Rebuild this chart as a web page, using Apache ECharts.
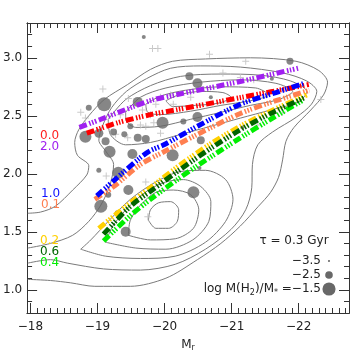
<!DOCTYPE html>
<html lang="en">
<head>
<meta charset="UTF-8">
<title>Mr - colour tracks</title>
<script src="https://cdn.jsdelivr.net/npm/echarts@6.0.0/dist/echarts.min.js"></script>
<style>
    html, body { margin: 0; padding: 0; background: #fff; }
    #main { width: 350px; height: 360px; }
</style>
</head>
<body>
<div id="main"></div>
<script type="text/javascript">

// axis ticks
var xMajor = [-18, -19, -20, -21, -22];
var yMajor = [1.0, 1.5, 2.0, 2.5, 3.0];
var xMinor = [];
var yMinor = [];
for (var i = 0; i <= 47; i++) xMinor.push(Math.round((-18 - i * 0.1) * 10) / 10);
for (var j = 0; j <= 25; j++) yMinor.push(Math.round((0.8 + j * 0.1) * 10) / 10);

// model tracks, labelled by tau (Gyr)
var track00 = [[-18.84, 2.35], [-19.30, 2.44], [-19.79, 2.51], [-20.16, 2.55], [-21.16, 2.66], [-22.15, 2.77]];
var track20 = [[-18.73, 2.40], [-19.05, 2.47], [-19.54, 2.58], [-19.84, 2.64], [-20.16, 2.68], [-21.16, 2.80], [-21.99, 2.91]];
var track10 = [[-18.99, 1.81], [-19.24, 1.94], [-19.64, 2.14], [-19.79, 2.20], [-19.99, 2.25], [-20.49, 2.41], [-21.13, 2.60], [-21.66, 2.70], [-22.08, 2.78]];
var track01 = [[-18.96, 1.78], [-19.24, 1.89], [-19.64, 2.08], [-19.99, 2.19], [-20.49, 2.34], [-21.13, 2.52], [-21.66, 2.63], [-22.16, 2.72]];
var track02 = [[-19.02, 1.53], [-19.49, 1.75], [-19.79, 1.88], [-20.24, 2.08], [-20.69, 2.26], [-21.13, 2.41], [-21.58, 2.54], [-22.12, 2.68]];
var track06 = [[-19.09, 1.48], [-19.49, 1.72], [-19.79, 1.85], [-20.24, 2.04], [-20.69, 2.22], [-21.13, 2.38], [-21.58, 2.52], [-22.10, 2.66]];
var track04 = [[-19.09, 1.42], [-19.49, 1.64], [-19.79, 1.78], [-20.19, 1.95], [-20.49, 2.07], [-21.13, 2.31], [-21.58, 2.47], [-22.08, 2.64]];

// galaxies: [Mr, colour, log M(H2)/M*]
var galaxies = [
    [-19.69, 3.18, -3.15], [-19.10, 2.60, -1.33], [-18.87, 2.57, -2.79], [-18.82, 2.32, -1.70],
    [-19.02, 2.35, -2.24], [-19.12, 2.28, -2.43], [-19.24, 2.36, -2.61], [-19.40, 2.34, -2.79],
    [-19.49, 2.41, -2.79], [-19.18, 2.19, -1.70], [-19.60, 2.31, -2.43], [-19.72, 2.30, -2.43],
    [-19.97, 2.44, -1.70], [-19.52, 2.17, -2.06], [-19.31, 2.01, -1.70], [-19.02, 2.03, -2.97],
    [-19.60, 2.62, -2.06], [-20.37, 2.84, -2.43], [-20.49, 2.78, -2.06], [-20.69, 2.66, -3.15],
    [-20.28, 2.45, -2.79], [-20.49, 2.49, -2.06], [-20.54, 2.29, -2.43], [-20.12, 2.16, -1.70],
    [-21.87, 2.97, -2.61], [-21.60, 2.82, -3.15], [-20.52, 2.05, -3.15], [-19.05, 1.72, -1.52],
    [-19.16, 1.82, -2.79], [-19.30, 1.66, -2.79], [-19.46, 1.86, -2.06], [-19.42, 1.50, -2.06],
    [-20.43, 1.84, -1.70], [-21.16, 2.40, -3.15]
];

// galaxies without H2 measurement
var upperLimits = [
    [-19.82, 3.08], [-19.90, 3.08], [-20.67, 3.03], [-21.21, 2.97], [-19.08, 2.73], [-18.75, 2.53],
    [-18.82, 2.48], [-19.46, 2.65], [-19.67, 2.55], [-19.79, 2.51], [-19.34, 2.51], [-19.72, 2.41],
    [-19.87, 2.60], [-19.94, 2.66], [-20.09, 2.68], [-20.13, 2.60], [-20.39, 2.66], [-20.54, 2.75],
    [-20.87, 2.87], [-21.13, 2.83], [-21.33, 2.81], [-19.84, 2.44], [-19.94, 2.35], [-19.64, 2.42],
    [-21.76, 2.53], [-22.33, 2.64], [-19.27, 2.34], [-19.45, 2.31], [-19.13, 1.98], [-19.72, 1.93],
    [-19.75, 1.63], [-21.39, 2.42]
];

// density contours of the parent sample
var contourOpen1 = [[-17.96, 1.09], [-18.30, 1.08], [-18.60, 1.06], [-18.96, 1.03], [-19.49, 1.03], [-20.02, 1.10],
    [-20.49, 1.26], [-20.84, 1.40], [-21.13, 1.55], [-21.40, 1.72], [-21.58, 1.84], [-21.70, 1.97], [-21.76, 2.12],
    [-21.81, 2.28], [-21.93, 2.40], [-22.18, 2.55], [-22.37, 2.68], [-22.43, 2.79], [-22.30, 2.89], [-21.96, 2.97],
    [-21.28, 3.00], [-20.61, 2.99], [-20.12, 2.97], [-19.79, 2.90], [-19.45, 2.77], [-19.10, 2.64], [-18.87, 2.50],
    [-18.72, 2.38], [-18.66, 2.27], [-18.70, 2.16], [-18.87, 2.07], [-18.84, 1.99], [-18.63, 1.86], [-18.37, 1.72],
    [-18.15, 1.67], [-17.96, 1.66]];
var contourOpen2 = [[-17.96, 1.23], [-18.30, 1.26], [-18.55, 1.23], [-19.09, 1.18], [-19.64, 1.17], [-20.16, 1.22],
    [-20.61, 1.35], [-20.99, 1.52], [-21.21, 1.69], [-21.30, 1.88], [-21.31, 2.08], [-21.39, 2.25], [-21.61, 2.36],
    [-21.97, 2.49], [-22.19, 2.60], [-22.27, 2.71], [-22.12, 2.80], [-21.76, 2.87], [-21.13, 2.92], [-20.54, 2.93],
    [-20.09, 2.91], [-19.73, 2.82], [-19.43, 2.71], [-19.21, 2.57], [-19.08, 2.42], [-19.02, 2.29], [-19.13, 2.19],
    [-19.24, 2.08], [-19.19, 1.91], [-19.05, 1.73], [-18.87, 1.59], [-18.63, 1.47], [-18.30, 1.40], [-17.96, 1.36]];
var ridge1 = [[-19.16, 2.47], [-19.42, 2.64], [-19.79, 2.76], [-20.24, 2.84], [-20.84, 2.86], [-21.43, 2.85],
    [-21.88, 2.80], [-22.12, 2.71], [-22.00, 2.62], [-21.58, 2.55], [-21.13, 2.48], [-20.69, 2.41], [-20.24, 2.34],
    [-19.79, 2.27], [-19.42, 2.25], [-19.19, 2.34]];
var ridge2 = [[-19.42, 2.53], [-19.64, 2.66], [-20.02, 2.74], [-20.54, 2.79], [-21.13, 2.81], [-21.66, 2.78],
    [-21.91, 2.71], [-21.70, 2.64], [-21.28, 2.59], [-20.84, 2.53], [-20.39, 2.47], [-19.94, 2.41], [-19.57, 2.40],
    [-19.42, 2.47]];
var ridge3 = [[-19.72, 2.60], [-19.94, 2.67], [-20.31, 2.72], [-20.84, 2.75], [-21.36, 2.74], [-21.55, 2.68],
    [-21.28, 2.63], [-20.84, 2.59], [-20.39, 2.54], [-19.94, 2.51], [-19.75, 2.53]];
var ridge4 = [[-20.02, 2.63], [-20.21, 2.68], [-20.54, 2.71], [-20.87, 2.70], [-20.99, 2.66], [-20.81, 2.61],
    [-20.46, 2.59], [-20.12, 2.58]];
var cloud1 = [[-18.75, 1.35], [-19.12, 1.29], [-19.64, 1.27], [-20.16, 1.29], [-20.61, 1.41], [-20.91, 1.59],
    [-21.02, 1.78], [-20.91, 1.95], [-20.61, 2.03], [-20.24, 2.02], [-19.87, 1.93], [-19.49, 1.78], [-19.16, 1.59],
    [-18.90, 1.43]];
var cloud2 = [[-19.12, 1.41], [-19.57, 1.36], [-20.02, 1.35], [-20.42, 1.43], [-20.66, 1.59], [-20.69, 1.76],
    [-20.54, 1.89], [-20.28, 1.95], [-20.02, 1.93], [-19.76, 1.86], [-19.49, 1.73], [-19.24, 1.56]];
var cloud3 = [[-19.46, 1.47], [-19.79, 1.43], [-20.16, 1.44], [-20.43, 1.53], [-20.51, 1.69], [-20.39, 1.82],
    [-20.13, 1.86], [-19.87, 1.84], [-19.64, 1.73], [-19.49, 1.60]];
var cloud4 = [[-19.76, 1.60], [-19.79, 1.69], [-19.91, 1.75], [-20.09, 1.76], [-20.21, 1.69], [-20.19, 1.59],
    [-20.06, 1.53], [-19.87, 1.53]];

function sizeFor(v) {
    return 5.5 * (v + 3.88);
}

function closeLoop(pts) {
    return pts.concat([pts[0]]);
}

var font = 'DejaVu Sans';
var frame = '#333';

function xAxisDef(pos, ticks, len, withLabel) {
    return {
        type: 'value', position: pos, min: -22.75, max: -17.95, inverse: true,
        axisLine: {show: true, onZero: false, lineStyle: {color: frame, width: 1}},
        axisTick: {show: true, inside: true, length: len, customValues: ticks, lineStyle: {color: frame}},
        axisLabel: {
            show: withLabel, customValues: xMajor, margin: 8, color: '#222', fontSize: 12, fontFamily: font,
            formatter: function (v) { return String(v).replace('-', '\u2212'); }
        },
        splitLine: {show: false}
    };
}

function yAxisDef(pos, ticks, len, withLabel) {
    return {
        type: 'value', position: pos, min: 0.8, max: 3.3,
        axisLine: {show: true, onZero: false, lineStyle: {color: frame, width: 1}},
        axisTick: {show: true, inside: true, length: len, customValues: ticks, lineStyle: {color: frame}},
        axisLabel: {
            show: withLabel, customValues: yMajor, margin: 5, color: '#222', fontSize: 12, fontFamily: font,
            formatter: function (v) { return v.toFixed(1); }
        },
        splitLine: {show: false}
    };
}

var xAxes = [
    xAxisDef('bottom', xMajor, 10, true),
    xAxisDef('bottom', xMinor, 5, false),
    xAxisDef('top', xMajor, 10, false),
    xAxisDef('top', xMinor, 5, false)
];
xAxes[0].name = '{m|M}{s|r}';
xAxes[0].nameLocation = 'middle';
xAxes[0].nameGap = 24;
xAxes[0].nameTextStyle = {
    rich: {
        m: {fontSize: 12, fontFamily: font, color: '#222'},
        s: {fontSize: 8, fontFamily: font, color: '#222', padding: [7, 0, 0, 0]}
    }
};
var yAxes = [
    yAxisDef('left', yMajor, 10, true),
    yAxisDef('left', yMinor, 5, false),
    yAxisDef('right', yMajor, 10, false),
    yAxisDef('right', yMinor, 5, false)
];

var series = [];
[contourOpen1, contourOpen2].forEach(function (c) {
    series.push({type: 'line', data: c, symbol: 'none', smooth: 0.3, silent: true, z: 1,
        lineStyle: {color: '#7a7a7a', width: 1}});
});
[ridge1, ridge2, ridge3, ridge4, cloud1, cloud2, cloud3, cloud4].forEach(function (c) {
    series.push({type: 'line', data: closeLoop(c), symbol: 'none', smooth: 0.3, silent: true, z: 1,
        lineStyle: {color: '#7a7a7a', width: 1}});
});
series.push({
    type: 'scatter', data: upperLimits, z: 2, silent: true,
    symbol: 'path://M0,3h7v1H0z M3,0h1v7H3z', symbolSize: 7,
    itemStyle: {color: '#bdbdbd'}
});
series.push({
    type: 'scatter', data: galaxies, z: 3, silent: true,
    symbolSize: function (d) { return sizeFor(d[2]); },
    itemStyle: {color: '#686868'}
});

var tracks = [
    {data: track20, color: '#a020f0'},
    {data: track00, color: '#ff0000'},
    {data: track01, color: '#ff7f50'},
    {data: track10, color: '#0000ff'},
    {data: track02, color: '#ffd000'},
    {data: track04, color: '#00ee00'},
    {data: track06, color: '#006400'}
];
tracks.forEach(function (t) {
    series.push({
        type: 'line', data: t.data, symbol: 'none', smooth: 0.3, silent: true, z: 4,
        lineStyle: {color: t.color, width: 5, cap: 'butt', type: [8, 2.5, 1.5, 1.5, 1.5, 1.5, 1.5, 2.5]}
    });
});

function label(txt, x, y, color, align) {
    return {
        type: 'text', x: x, y: y, silent: true, z: 10,
        style: {text: txt, fill: color, font: '12px ' + font, textAlign: align || 'left', textVerticalAlign: 'middle'}
    };
}

var graphics = [
    label('0.0', 40, 136, '#ff2020'),
    label('2.0', 40, 147, '#a020f0'),
    label('1.0', 41, 194, '#1010ff'),
    label('0.1', 41, 205, '#ff7f50'),
    label('0.2', 40, 241, '#ffd000'),
    label('0.6', 40, 252, '#006400'),
    label('0.4', 40, 263, '#00ee00'),
    label('\u03c4 = 0.3 Gyr', 294, 241, '#222', 'center'),
    label('\u22123.5', 321, 261, '#222', 'right'),
    label('\u22122.5', 321, 275, '#222', 'right'),
    {
        type: 'text', x: 321, y: 289, silent: true, z: 10,
        style: {
            text: '{a|log M(H}{b|2}{a|)/M}{b|*}{a| =\u22121.5}',
            textAlign: 'right', textVerticalAlign: 'middle',
            rich: {
                a: {font: '12px ' + font, fill: '#222'},
                b: {font: '8px ' + font, fill: '#222', padding: [7, 0, 0, 0]}
            }
        }
    }
];
[-3.5, -2.5, -1.5].forEach(function (v, k) {
    graphics.push({
        type: 'circle', silent: true, z: 10,
        shape: {cx: 329, cy: 261 + k * 14, r: sizeFor(v) / 2},
        style: {fill: '#686868'}
    });
});

var myChart = echarts.init(document.getElementById('main'));
myChart.setOption({
    animation: false,
    backgroundColor: '#fff',
    grid: {left: 27, right: 1, top: 23, bottom: 47},
    xAxis: xAxes,
    yAxis: yAxes,
    series: series,
    graphic: graphics
});
</script>
</body>
</html>
